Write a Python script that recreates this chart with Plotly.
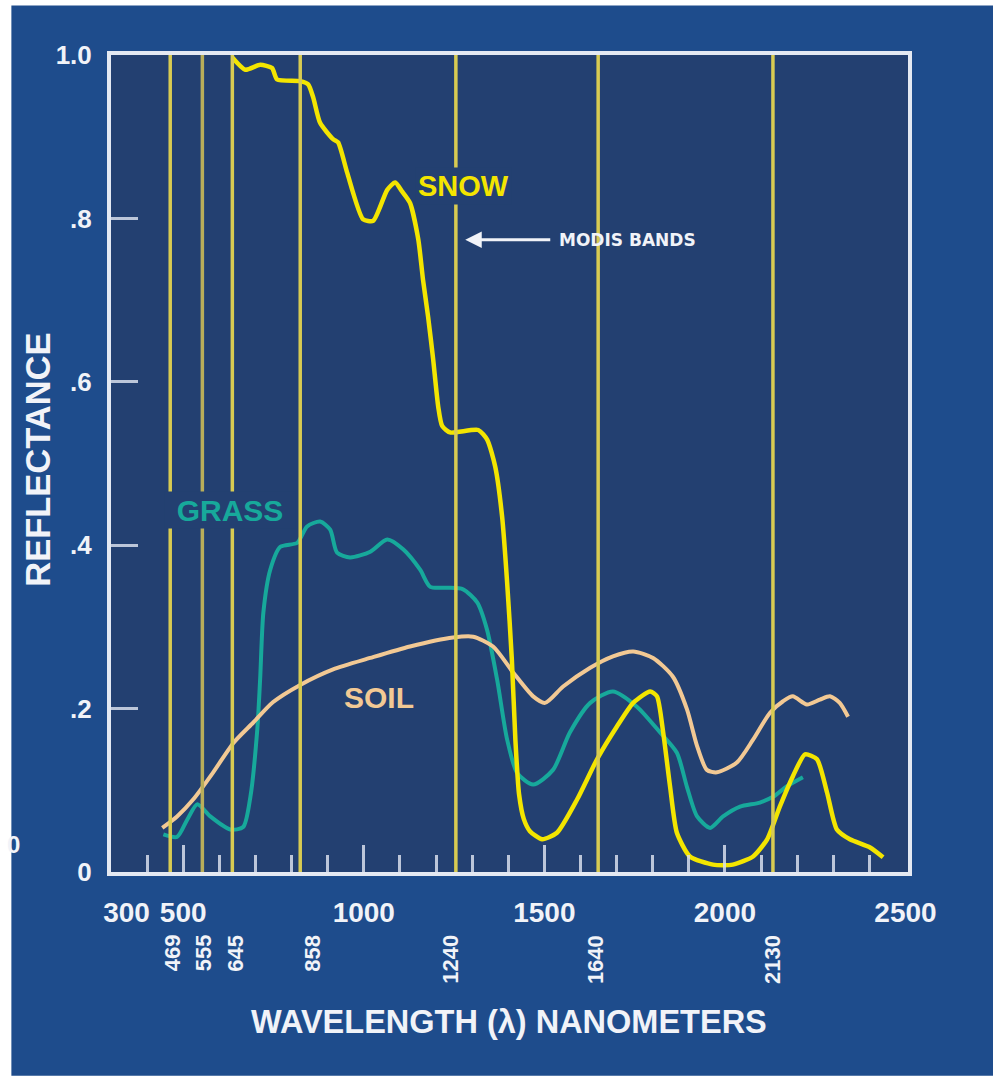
import plotly.graph_objects as go

# ---------------- data ----------------
snow_nm = [636, 672, 713, 746, 760, 824, 846, 860, 879, 915, 929, 954, 998, 1026, 1065,
           1087, 1106, 1128, 1151, 1164, 1178, 1192, 1206, 1217, 1239, 1317, 1342, 1364,
           1383, 1397, 1410, 1420, 1430, 1443, 1460, 1494, 1535, 1591, 1646, 1701, 1746,
           1793, 1812, 1829, 1848, 1867, 1903, 1967, 2022, 2078, 2117, 2152, 2188, 2222,
           2255, 2283, 2310, 2346, 2402, 2438]
snow_refl = [0.997, 0.982, 0.988, 0.984, 0.970, 0.968, 0.964, 0.948, 0.917, 0.897, 0.893,
             0.856, 0.799, 0.797, 0.835, 0.844, 0.833, 0.819, 0.774, 0.725, 0.680, 0.628,
             0.570, 0.546, 0.538, 0.541, 0.529, 0.496, 0.435, 0.354, 0.26, 0.16, 0.095,
             0.065, 0.05, 0.040, 0.048, 0.089, 0.138, 0.178, 0.207, 0.221, 0.215, 0.171,
             0.105, 0.048, 0.019, 0.009, 0.009, 0.019, 0.040, 0.080, 0.117, 0.144, 0.138,
             0.097, 0.052, 0.040, 0.030, 0.018]

grass_nm = [445, 483, 511, 539, 575, 630, 666, 686, 705, 713, 722, 741, 769, 816, 843, 879,
            907, 926, 962, 1018, 1065, 1109, 1156, 1184, 1231, 1275, 1314, 1341, 1369, 1397,
            1425, 1469, 1524, 1571, 1627, 1690, 1757, 1820, 1867, 1895, 1923, 1959, 1995,
            2042, 2097, 2133, 2172, 2216]
grass_refl = [0.046, 0.043, 0.064, 0.083, 0.068, 0.052, 0.055, 0.092, 0.174, 0.236, 0.318,
              0.370, 0.398, 0.403, 0.423, 0.429, 0.419, 0.391, 0.385, 0.392, 0.407, 0.395,
              0.370, 0.349, 0.348, 0.346, 0.330, 0.297, 0.236, 0.162, 0.121, 0.107, 0.125,
              0.171, 0.207, 0.221, 0.202, 0.171, 0.146, 0.104, 0.068, 0.054, 0.068, 0.080,
              0.085, 0.092, 0.105, 0.116]

soil_nm = [442, 483, 528, 583, 639, 694, 749, 824, 915, 1018, 1128, 1247, 1303, 1358, 1414,
           1469, 1502, 1552, 1627, 1690, 1746, 1801, 1856, 1895, 1923, 1950, 1978, 2033,
           2078, 2125, 2161, 2188, 2227, 2263, 2291, 2318, 2341]
soil_refl = [0.054, 0.068, 0.089, 0.122, 0.158, 0.183, 0.208, 0.229, 0.248, 0.262, 0.276,
             0.287, 0.288, 0.276, 0.244, 0.215, 0.207, 0.227, 0.250, 0.264, 0.270, 0.262,
             0.239, 0.199, 0.154, 0.125, 0.122, 0.134, 0.162, 0.195, 0.209, 0.215, 0.205,
             0.211, 0.215, 0.207, 0.190]

modis_band_labels = [469, 555, 645, 858, 1240, 1640, 2130]
modis_line_nm = [464, 553, 636, 824, 1255, 1649, 2133]   # where the lines are drawn

x_tick_vals = [300, 500, 1000, 1500, 2000, 2500]
x_tick_text = ["\u2007\u2007300", "500", "1000", "1500", "2000", "2500"]
x_long_tick_vals = [500, 1000, 1500, 2000]
x_minor_vals = [400, 600, 700, 800, 900, 1100, 1200, 1300, 1400, 1600, 1700, 1800, 1900,
                2100, 2200, 2300, 2400]
y_tick_vals = [0, 0.2, 0.4, 0.6, 0.8, 1.0]
y_tick_text = ["0", ".2", ".4", ".6", ".8", "1.0"]

# ---------------- style ----------------
PAGE_BLUE = "#1E4C8C"
PLOT_NAVY = "#234071"
FRAME = "#E4E9F2"
TICKC = "rgba(215,222,235,0.85)"
SNOW_C = "#F3E500"
GRASS_C = "#17A99B"
SOIL_C = "#F2C994"
BAND_C = "#D8CB52"
TEXT_C = "#F1F3F8"
FONT = "Liberation Sans, Arial, Helvetica, sans-serif"
X_RANGE = [300, 2507]

fig = go.Figure()

for i, v in enumerate(modis_line_nm):
    fig.add_trace(go.Scatter(x=[v, v], y=[0, 1], mode="lines", xaxis="x2",
                             line=dict(color="#B9AE5A" if i == 1 else BAND_C, width=3.5),
                             hoverinfo="skip", showlegend=False))

fig.add_trace(go.Scatter(x=grass_nm, y=grass_refl, mode="lines", name="GRASS",
                         line=dict(color=GRASS_C, width=4, shape="spline", smoothing=0.7),
                         showlegend=False))
fig.add_trace(go.Scatter(x=soil_nm, y=soil_refl, mode="lines", name="SOIL",
                         line=dict(color=SOIL_C, width=4, shape="spline", smoothing=0.7),
                         showlegend=False))
fig.add_trace(go.Scatter(x=snow_nm, y=snow_refl, mode="lines", name="SNOW",
                         line=dict(color=SNOW_C, width=4.5, shape="spline", smoothing=0.6),
                         showlegend=False))

# backgrounds
fig.add_shape(type="rect", xref="paper", yref="paper", x0=-0.125, x1=1.12, y0=-0.2494,
              y1=1.0606, fillcolor=PAGE_BLUE, line_width=0, layer="below")
fig.add_shape(type="rect", xref="paper", yref="paper", x0=0, x1=1, y0=0, y1=1,
              fillcolor=PLOT_NAVY, line_width=0, layer="below")

ann = []
# axis titles
ann.append(dict(text="WAVELENGTH (λ) NANOMETERS", xref="paper", yref="paper", x=0.4995,
                y=-0.1833, showarrow=False, xanchor="center", yanchor="middle",
                font=dict(family=FONT, size=32.5, color=TEXT_C, weight="bold")))
ann.append(dict(text="REFLECTANCE", xref="paper", yref="paper", x=-0.0912, y=0.505,
                textangle=-90, showarrow=False, xanchor="center", yanchor="middle",
                font=dict(family=FONT, size=34.5, color=TEXT_C, weight="bold")))
# series labels
ann.append(dict(text="SNOW", x=1275, y=0.840, xref="x", yref="y", showarrow=False,
                bgcolor=PLOT_NAVY, borderpad=2,
                font=dict(family=FONT, size=29, color=SNOW_C, weight="bold")))
ann.append(dict(text="GRASS", x=630, y=0.4436, xref="x", yref="y", showarrow=False,
                bgcolor=PLOT_NAVY, borderpad=0, width=130, height=36,
                font=dict(family=FONT, size=30, color=GRASS_C, weight="bold")))
ann.append(dict(text="SOIL", x=1043, y=0.2135, xref="x", yref="y", showarrow=False,
                font=dict(family=FONT, size=30, color=SOIL_C, weight="bold")))
# MODIS bands pointer
ann.append(dict(text="MODIS BANDS", x=1281, y=0.774, xref="x", yref="y", showarrow=True,
                ax=162, ay=0, arrowhead=2, arrowsize=1.1, arrowwidth=3, arrowcolor=TEXT_C,
                borderpad=8,
                font=dict(family="DejaVu Sans, sans-serif", size=17, color=TEXT_C,
                          weight="bold")))
# band labels under the axis
for v in modis_band_labels:
    ann.append(dict(text=str(v), x=v, xref="x", yref="paper", y=-0.0743, textangle=-90,
                    showarrow=False, xanchor="center", yanchor="top",
                    font=dict(family=FONT, size=22, color=TEXT_C, weight="bold")))
# stray glyph at the left edge of the original (half hidden by the white border)
ann.append(dict(text="0", xref="paper", yref="paper", x=-0.1112, y=0.0334, showarrow=False,
                xanchor="right", yanchor="middle",
                font=dict(family=FONT, size=24, color=TEXT_C, weight="bold")))

fig.update_layout(
    width=993, height=1081,
    margin=dict(l=111, r=85, t=55, b=209, pad=0),
    paper_bgcolor="white", plot_bgcolor=PLOT_NAVY,
    annotations=ann, showlegend=False,
    xaxis=dict(range=X_RANGE, tickmode="array", tickvals=x_tick_vals,
               ticktext=x_tick_text, ticks="", showline=True, linecolor=FRAME,
               linewidth=4, mirror=True, showgrid=False, zeroline=False,
               ticklabelstandoff=12,
               tickfont=dict(family=FONT, size=28, color=TEXT_C, weight="bold"),
               minor=dict(tickmode="array", tickvals=x_minor_vals, ticks="inside",
                          ticklen=17, tickwidth=3, tickcolor=TICKC, showgrid=False)),
    xaxis2=dict(range=X_RANGE, overlaying="x", anchor="y", side="bottom",
                tickmode="array", tickvals=x_long_tick_vals, ticks="inside", ticklen=27,
                tickwidth=3, tickcolor=TICKC, showticklabels=False, showline=False,
                showgrid=False, zeroline=False),
    yaxis=dict(range=[0, 1], tickmode="array", tickvals=y_tick_vals, ticktext=y_tick_text,
               ticks="inside", ticklen=27, tickwidth=3, tickcolor=TICKC, showline=True,
               linecolor=FRAME, linewidth=4, mirror=True, showgrid=False, zeroline=False,
               ticklabelstandoff=10,
               tickfont=dict(family=FONT, size=26, color=TEXT_C, weight="bold")),
)

fig.write_html("out.html", include_plotlyjs=True, config={"displayModeBar": False},
               post_script="document.body.style.margin='0';document.body.style.overflow='hidden';")
